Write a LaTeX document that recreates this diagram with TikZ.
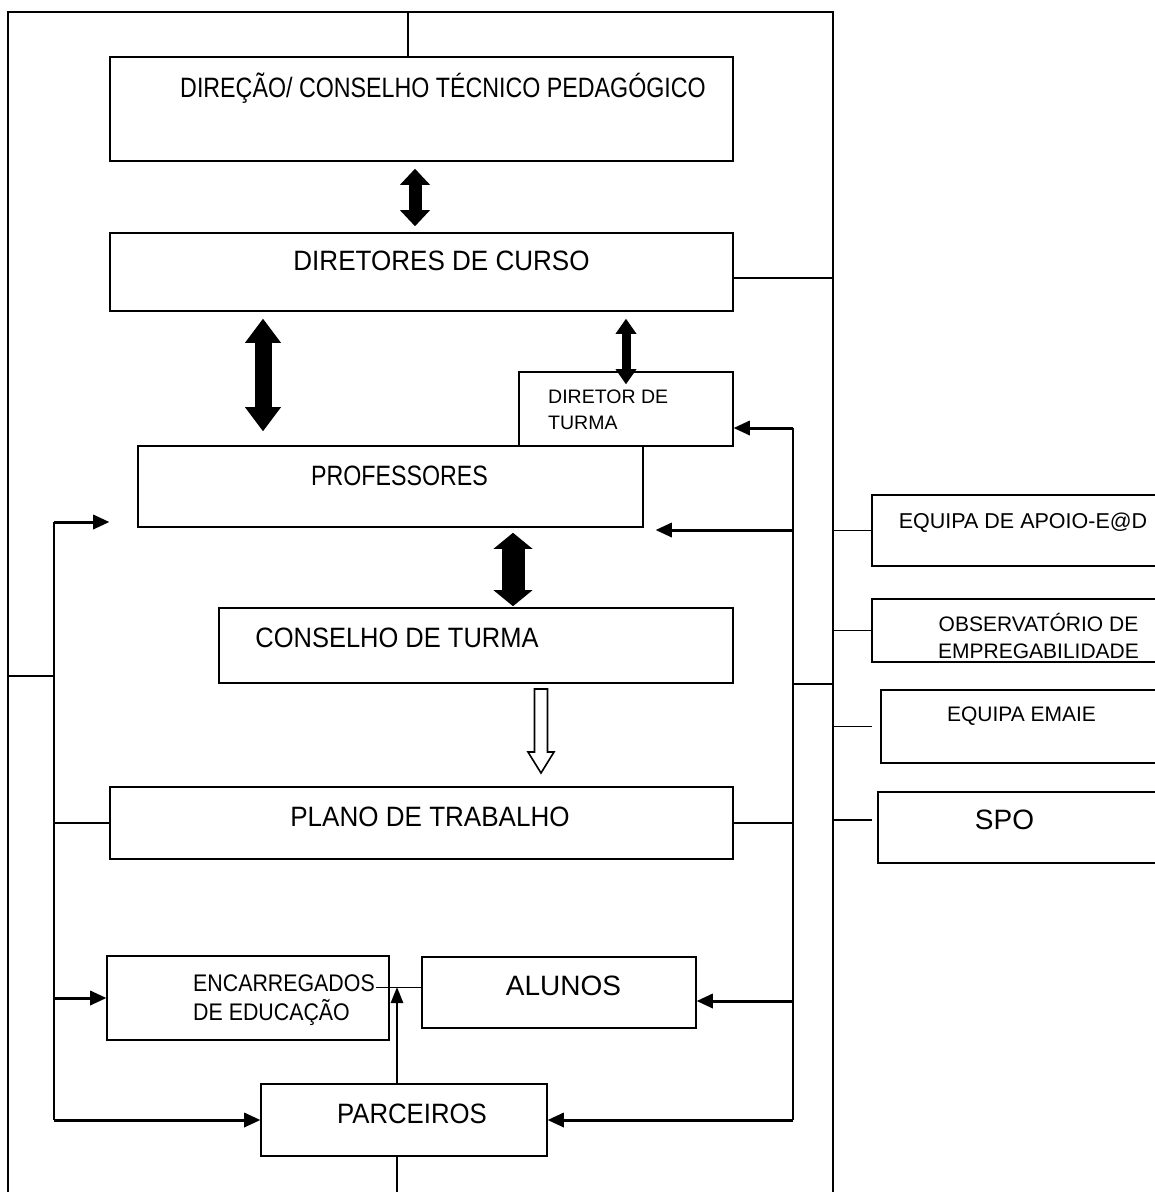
\documentclass[tikz,border=0pt]{standalone}
\usepackage{fontspec}
\setmainfont{Liberation Sans}
\usetikzlibrary{arrows.meta}

\begin{document}
\begin{tikzpicture}[x=1pt,y=-1pt,
    box/.style 2 args={draw,line width=1.6pt,inner sep=0pt,minimum width=#1pt,minimum height=#2pt},
    txt/.style n args={3}{inner sep=0pt,font=\fontsize{#1}{#2}\selectfont\addfontfeatures{FakeStretch=#3}},
    link/.style={line width=1.6pt},
    feed/.style={line width=3pt,-{Triangle[length=16pt,width=15pt,line width=0pt]}},
    bigarrow/.style n args={3}{line width=#1,arrows={Triangle[length=#3,width=#2,line width=0pt]-Triangle[length=#3,width=#2,line width=0pt]}}]
    \fill[white] (0,0) rectangle (1155,1192);
    \useasboundingbox (0,0) rectangle (1155,1192);

    \node[box={623}{104}] (direcao) at (421.5,109) {};
    \node[box={623}{78}] (diretores) at (421.5,272) {};
    \node[box={214}{74}] (dirturma) at (626,409) {};
    \node[box={505}{81}] (professores) at (390.5,486.5) {};
    \node[box={514}{75}] (conselho) at (476,645.5) {};
    \node[box={623}{72}] (plano) at (421.5,823) {};
    \node[box={282}{84}] (enc) at (248,998) {};
    \node[box={274}{71}] (alunos) at (559,992.5) {};
    \node[box={286}{72}] (parc) at (404,1120) {};
    \node[box={288}{71}] (apoio) at (1016,530.5) {};
    \node[box={288}{63}] (obs) at (1016,630.5) {};
    \node[box={279}{73}] (emaie) at (1020.5,726.5) {};
    \node[box={282}{71}] (spo) at (1019,827.5) {};

    \node[txt={28}{28}{0.83},anchor=base] (direcao-t) at (443,97) {DIREÇÃO/ CONSELHO TÉCNICO PEDAGÓGICO};
    \node[txt={28}{28}{0.93},anchor=base] (diretores-t) at (441.5,270) {DIRETORES DE CURSO};
    \node[txt={19.5}{26}{1},anchor=base west,align=left] (dirturma-t) at (548,429) {DIRETOR DE\\TURMA};
    \node[txt={28}{28}{0.83},anchor=base] (professores-t) at (399.5,485) {PROFESSORES};
    \node[txt={28}{28}{0.91},anchor=base] (conselho-t) at (397,647) {CONSELHO DE TURMA};
    \node[txt={28}{28}{0.93},anchor=base] (plano-t) at (430,826) {PLANO DE TRABALHO};
    \node[txt={24}{29}{0.89},anchor=base west,align=left] (enc-t) at (193,1020) {ENCARREGADOS\\DE EDUCAÇÃO};
    \node[txt={28}{28}{1},anchor=base] (alunos-t) at (563.5,995) {ALUNOS};
    \node[txt={28}{28}{0.92},anchor=base] (parc-t) at (412,1123) {PARCEIROS};
    \node[txt={21.5}{26}{1},anchor=base] (apoio-t) at (1023,528) {EQUIPA DE APOIO-E@D};
    \node[txt={21}{27}{1},anchor=base,align=center] (obs-t) at (1038.5,658) {OBSERVATÓRIO DE\\EMPREGABILIDADE};
    \node[txt={21}{26}{1},anchor=base] (emaie-t) at (1021.5,721) {EQUIPA EMAIE};
    \node[txt={28}{28}{1},anchor=base] (spo-t) at (1004.5,829) {SPO};

    \coordinate (lframe) at (8,12);
    \coordinate (rframe) at (833,12);
    \coordinate (top) at (408,12);
    \coordinate (lmid) at (8,676);
    \coordinate (lrail) at (54,522);
    \coordinate (rrail) at (793,428);
    \coordinate (dc) at ([yshift=-6pt]diretores.east);
    \coordinate (profin) at ([xshift=-28pt,yshift=-35.5pt]professores.west);
    \coordinate (profrt) at ([xshift=12pt,yshift=-43.5pt]professores.east);
    \coordinate (alrt) at ([yshift=-8.5pt]alunos.east);
    \coordinate (spoin) at ([yshift=7.5pt]spo.west);

    \draw[link] (8,1195) -- (lframe) -- (rframe) -- (833,1195);
    \draw[link] (top) -- (top |- direcao.north);
    \draw[link] (dc) -- (dc -| rframe);

    \draw[link] (lmid) -- (lmid -| lrail);
    \draw[link] (lrail) -- (lrail |- parc.west);
    \draw[feed] (lrail) -- (profin);
    \draw[link] (lrail |- plano.west) -- (plano.west);
    \draw[feed] (lrail |- enc.west) -- (enc.west);
    \draw[feed] (lrail |- parc.west) -- (parc.west);

    \draw[link] (rrail) -- (rrail |- parc.east);
    \draw[feed] (rrail) -- (rrail -| dirturma.east);
    \draw[feed] (rrail |- profrt) -- (profrt);
    \draw[link] (rrail |- conselho.south) -- (rframe |- conselho.south);
    \draw[link] (plano.east) -- (rrail |- plano.east);
    \draw[feed] (rrail |- alrt) -- (alrt);
    \draw[feed] (rrail |- parc.east) -- (parc.east);

    \draw[link] (rframe |- apoio.west) -- (apoio.west);
    \draw[link] (rframe |- obs.west) -- (obs.west);
    \draw[link] (rframe |- emaie.west) -- ++(39,0);
    \draw[link] (rframe |- spoin) -- ++(39,0);

    \draw[link] ([yshift=5pt]alunos.west) -- ++(-45,0);
    \draw[line width=2pt,-{Triangle[length=16pt,width=13pt,line width=0pt]}] ([xshift=-7pt]parc.north) -- ++(0,-96);
    \draw[link] ([xshift=-7pt]parc.south) -- ++(0,40);

    \draw[bigarrow={13pt}{30pt}{16pt}] ([xshift=-6.5pt,yshift=-7pt]direcao.south) -- ([xshift=-6.5pt,yshift=6pt]diretores.north);
    \draw[bigarrow={17pt}{36pt}{24pt}] ([xshift=-158.5pt,yshift=-7pt]diretores.south) -- ([xshift=-127.5pt,yshift=14pt]professores.north);
    \draw[bigarrow={9pt}{21pt}{15pt}] ([xshift=204.5pt,yshift=-7pt]diretores.south) -- ([yshift=-13pt]dirturma.north);
    \draw[bigarrow={23pt}{39pt}{16pt}] ([xshift=122.5pt,yshift=-5pt]professores.south) -- ([xshift=37pt,yshift=1pt]conselho.north);
    \draw[line width=1.6pt,fill=white] (534.5,689) -- (547.5,689) -- (547.5,752) -- (554,752) -- (541,773) -- (528,752) -- (534.5,752) -- cycle;
\end{tikzpicture}
\end{document}
